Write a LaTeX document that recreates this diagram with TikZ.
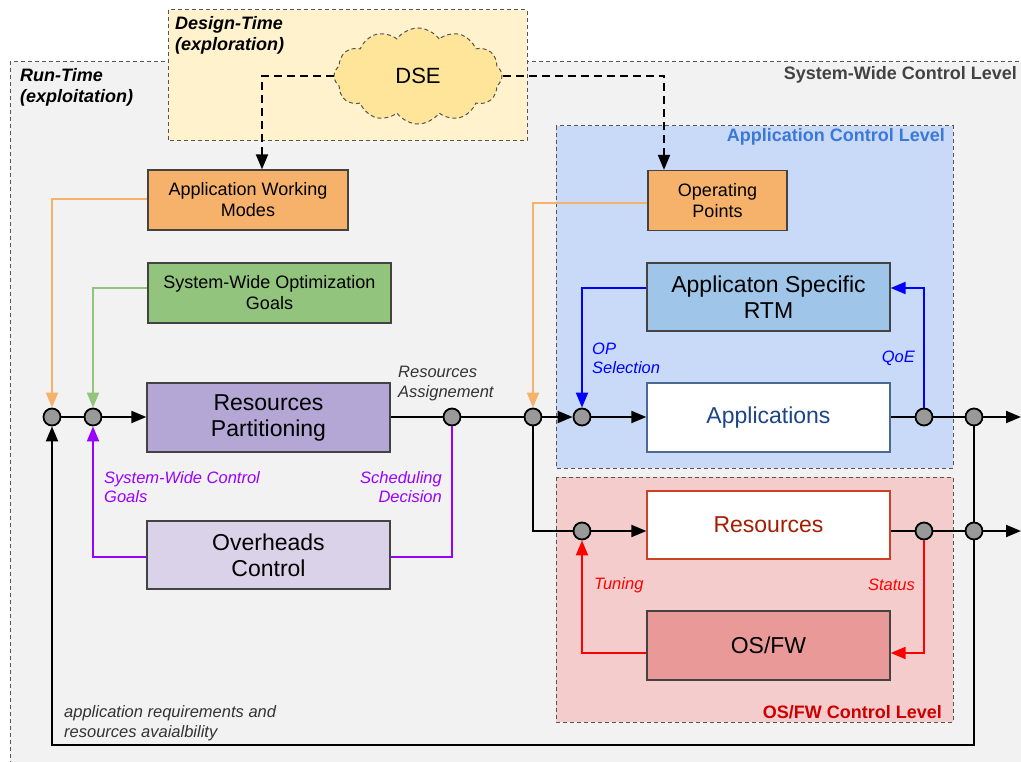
\documentclass[tikz,border=0pt]{standalone}
\usepackage{fontspec}
\setmainfont{Liberation Sans}
\usetikzlibrary{shapes.symbols,arrows.meta}
\definecolor{rtbg}{HTML}{F2F2F2}
\definecolor{dtbg}{HTML}{FFF2CC}
\definecolor{cloudc}{HTML}{FFE599}
\definecolor{orangec}{HTML}{F6B26B}
\definecolor{orangel}{HTML}{F6B26B}
\definecolor{greenc}{HTML}{93C47D}
\definecolor{greenl}{HTML}{93C47D}
\definecolor{purplec}{HTML}{B4A7D6}
\definecolor{lpurple}{HTML}{D9D2E9}
\definecolor{purplel}{HTML}{9900FF}
\definecolor{appbg}{HTML}{C9DAF8}
\definecolor{rtmc}{HTML}{9FC5E8}
\definecolor{osbg}{HTML}{F4CCCC}
\definecolor{osfwc}{HTML}{EA9999}
\definecolor{bluelbl}{HTML}{3C78D8}
\definecolor{oslbl}{HTML}{CC0000}
\definecolor{borderc}{HTML}{434343}
\definecolor{regionc}{HTML}{555555}
\definecolor{apptext}{HTML}{1C4587}
\definecolor{appborder}{HTML}{4A6A8F}
\definecolor{restext}{HTML}{A61C00}
\definecolor{resborder}{HTML}{CC4125}
\definecolor{graytext}{HTML}{434343}
\definecolor{lbltext}{HTML}{333333}
\definecolor{circc}{HTML}{999999}
\tikzset{
  region/.style={draw=regionc, line width=1pt, dash pattern=on 4pt off 3pt},
  box/.style={draw=borderc, line width=1.3pt, inner sep=0pt, align=center},
  smallbox/.style={box, font=\fontsize{18}{21}\selectfont},
  bigbox/.style={box, font=\fontsize{23}{26}\selectfont},
  junction/.style={circle, draw=black, line width=1.8pt, fill=circc, minimum size=17pt, inner sep=0pt},
  conn/.style={line width=2pt},
  arr/.style={-{Triangle[length=15pt,width=12pt]}},
  lbl/.style={font=\fontsize{16.5}{19.5}\selectfont\itshape, inner sep=0pt},
  regionlbl/.style={font=\fontsize{18}{21}\selectfont\bfseries, inner sep=0pt},
}
\begin{document}
\begin{tikzpicture}[x=1pt,y=-1pt]
\clip (0,0) rectangle (1021,762);
% regions
\fill[rtbg] (10,62) rectangle (1040,780);
\draw[region] (1040,62) -- (10,62) -- (10,780);
\draw[region, fill=dtbg] (168,10) rectangle (527,141);
\draw[region, fill=appbg] (556,126) rectangle (953,468);
\draw[region, fill=osbg] (556,477) rectangle (953,722);

% region labels
\node[regionlbl, font=\fontsize{18}{21}\selectfont\bfseries\itshape, align=left, anchor=north west] (rtlbl) at (20,68) {Run-Time\\(exploitation)};
\node[regionlbl, font=\fontsize{18}{21}\selectfont\bfseries\itshape, align=left, anchor=north west] (dtlbl) at (175,16) {Design-Time\\(exploration)};
\node[regionlbl, text=graytext, anchor=east] (swlbl) at (1017,75) {System-Wide Control Level};
\node[regionlbl, text=bluelbl, anchor=east] (aclbl) at (945,137) {Application Control Level};
\node[regionlbl, text=oslbl, anchor=east] (oslbl) at (942,712) {OS/FW Control Level};

% cloud
\node[cloud, cloud puffs=12, cloud puff arc=110, aspect=1.75, draw=regionc, line width=1pt, dash pattern=on 4pt off 3pt, fill=cloudc, minimum width=168pt, minimum height=96pt, inner sep=0pt, font=\fontsize{22}{24}\selectfont] (DSE) at (418,76) {DSE};

% boxes
\node[smallbox, fill=orangec, minimum width=200pt, minimum height=60pt] (AWM) at (248,200) {Application Working\\Modes};
\node[smallbox, fill=greenc, minimum width=243pt, minimum height=60pt] (SWOG) at (269.5,293) {System-Wide Optimization\\Goals};
\node[bigbox, fill=purplec, minimum width=243pt, minimum height=69pt] (RP) at (268.5,417.5) {Resources\\Partitioning};
\node[bigbox, fill=lpurple, minimum width=243pt, minimum height=68pt] (OC) at (268.5,555) {Overheads\\Control};
\node[smallbox, fill=orangec, minimum width=139pt, minimum height=60pt] (OP) at (717.5,200.5) {Operating\\Points};
\node[bigbox, fill=rtmc, minimum width=243pt, minimum height=68pt] (RTM) at (768.5,297) {Applicaton Specific\\RTM};
\node[bigbox, fill=white, draw=appborder, text=apptext, minimum width=243pt, minimum height=69pt] (APP) at (768.5,417.5) {Applications};
\node[bigbox, fill=white, draw=resborder, text=restext, minimum width=243pt, minimum height=68pt] (RES) at (768.5,525) {Resources};
\node[bigbox, fill=osfwc, minimum width=243pt, minimum height=69pt] (OSFW) at (768.5,645.5) {OS/FW};

% junctions
\node[junction] (c1) at (52,417) {};
\node[junction] (c2) at (93,417) {};
\node[junction] (c3) at (452,417) {};
\node[junction] (c4) at (533,417) {};
\node[junction] (c5) at (582,417) {};
\node[junction] (c6) at (924,417) {};
\node[junction] (c7) at (974,417) {};
\node[junction] (c8) at (582,531) {};
\node[junction] (c9) at (924,531) {};
\node[junction] (c10) at (974,531) {};
\coordinate (out1) at (1021,417);
\coordinate (out2) at (1021,531);
\coordinate (bottomR) at (974,745);

% DSE dashed connectors
\draw[line width=2pt, dash pattern=on 8pt off 5pt, arr] (DSE.west) -| ([xshift=14pt]AWM.north);
\draw[line width=2pt, dash pattern=on 8pt off 5pt, arr] (DSE.east) -| ([xshift=-53.5pt]OP.north);

% main flow
\draw[conn] (c1) -- (c2);
\draw[conn, arr] (c2) -- (RP.west |- c2);
\draw[conn] (RP.east |- c3) -- (c3);
\draw[conn] (c3) -- (c4);
\draw[conn, arr] (c4) -- (c5);
\draw[conn, arr] (c5) -- (APP.west |- c5);
\draw[conn] (APP.east |- c6) -- (c6);
\draw[conn] (c6) -- (c7);
\draw[conn, arr] (c7) -- (out1);
\draw[conn] (c4) |- (c8);
\draw[conn, arr] (c8) -- (RES.west |- c8);
\draw[conn] (RES.east |- c9) -- (c9);
\draw[conn] (c9) -- (c10);
\draw[conn, arr] (c10) -- (out2);
\draw[conn] (c7) -- (c10);
\draw[conn, arr] (c10) -- (bottomR) -| (c1);

% orange / green
\draw[conn, orangel, arr] ([yshift=1pt]AWM.west) -| (c1);
\draw[conn, orangel, arr] ([yshift=-2.5pt]OP.west) -| (c4);
\draw[conn, greenl, arr] ([yshift=5pt]SWOG.west) -| (c2);

% purple
\draw[conn, purplel, arr] ([yshift=-2pt]OC.west) -| (c2);
\draw[conn, purplel] (c3) |- ([yshift=-2pt]OC.east);

% blue
\draw[conn, blue, arr] ([yshift=9pt]RTM.west) -| (c5);
\draw[conn, blue, arr] (c6) |- ([yshift=9pt]RTM.east);

% red
\draw[conn, red, arr] ([yshift=-7.5pt]OSFW.west) -| (c8);
\draw[conn, red, arr] (c9) |- ([yshift=-7.5pt]OSFW.east);

% labels
\node[lbl, text=lbltext, align=left, anchor=west] (ra) at (398,383.5) {Resources\\Assignement};
\node[lbl, text=purplel, align=left, anchor=west] (swcg) at (104,487) {System-Wide Control\\Goals};
\node[lbl, text=purplel, align=right, anchor=east] (sd) at (442,487) {Scheduling\\Decision};
\node[lbl, text=blue, align=left, anchor=west] (ops) at (592,358.5) {OP\\Selection};
\node[lbl, text=blue, anchor=east] (qoe) at (915,358) {QoE};
\node[lbl, text=red, anchor=west] (tun) at (594,585) {Tuning};
\node[lbl, text=red, anchor=east] (sta) at (915,585) {Status};
\node[lbl, text=lbltext, align=left, anchor=west] (arq) at (64,723) {application requirements and\\resources avaialbility};
\end{tikzpicture}
\end{document}
